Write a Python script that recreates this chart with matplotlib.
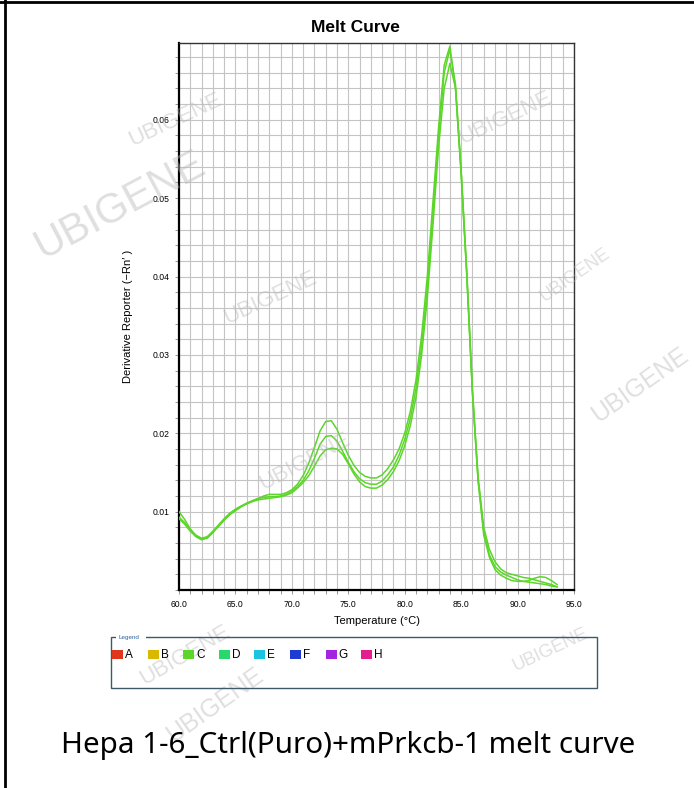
import numpy as np
import matplotlib.pyplot as plt
from matplotlib.patches import Rectangle
from matplotlib.lines import Line2D

# Temperatura (graus C) e derivada das tres replicas
temperatura = [60.0, 60.5, 61.0, 61.5, 62.0, 62.5, 63.0, 63.5, 64.0, 64.5,
               65.0, 65.5, 66.0, 66.5, 67.0, 67.5, 68.0, 68.5, 69.0, 69.5,
               70.0, 70.5, 71.0, 71.5, 72.0, 72.5, 73.0, 73.5, 74.0, 74.5,
               75.0, 75.5, 76.0, 76.5, 77.0, 77.5, 78.0, 78.5, 79.0, 79.5,
               80.0, 80.5, 81.0, 81.5, 82.0, 82.5, 83.0, 83.5, 84.0, 84.5,
               85.0, 85.5, 86.0, 86.5, 87.0, 87.5, 88.0, 88.5, 89.0, 89.5,
               90.0, 90.5, 91.0, 91.5, 92.0, 92.5, 93.0, 93.5]

replica_1 = [0.0100, 0.0090, 0.0078, 0.0069, 0.0065, 0.0066, 0.0073, 0.0082, 0.0090, 0.0097,
             0.0103, 0.0107, 0.0110, 0.0113, 0.0116, 0.0120, 0.0122, 0.0122, 0.0122, 0.0124,
             0.0128, 0.0135, 0.0146, 0.0162, 0.0182, 0.0203, 0.0215, 0.0216, 0.0205, 0.0188,
             0.0172, 0.0159, 0.0150, 0.0145, 0.0143, 0.0143, 0.0147, 0.0155, 0.0166, 0.0180,
             0.0200, 0.0228, 0.0268, 0.0325, 0.0400, 0.0495, 0.0590, 0.0670, 0.0694, 0.0640,
             0.0530, 0.0400, 0.0250, 0.0140, 0.0075, 0.0045, 0.0030, 0.0023, 0.0019, 0.0016,
             0.0013, 0.0011, 0.0012, 0.0015, 0.0017, 0.0016, 0.0012, 0.0007]

replica_2 = [0.0093, 0.0086, 0.0077, 0.0070, 0.0066, 0.0068, 0.0075, 0.0083, 0.0091, 0.0098,
             0.0103, 0.0107, 0.0111, 0.0114, 0.0117, 0.0118, 0.0119, 0.0119, 0.0120, 0.0122,
             0.0126, 0.0132, 0.0140, 0.0152, 0.0168, 0.0186, 0.0196, 0.0197, 0.0190, 0.0177,
             0.0163, 0.0151, 0.0142, 0.0137, 0.0135, 0.0135, 0.0139, 0.0147, 0.0157, 0.0172,
             0.0192, 0.0219, 0.0257, 0.0312, 0.0385, 0.0480, 0.0580, 0.0660, 0.0690, 0.0645,
             0.0535, 0.0405, 0.0255, 0.0145, 0.0080, 0.0052, 0.0036, 0.0027, 0.0022, 0.0020,
             0.0018, 0.0016, 0.0015, 0.0013, 0.0011, 0.0009, 0.0007, 0.0004]

replica_3 = [0.0091, 0.0084, 0.0075, 0.0068, 0.0064, 0.0067, 0.0074, 0.0081, 0.0089, 0.0096,
             0.0101, 0.0106, 0.0110, 0.0113, 0.0115, 0.0116, 0.0117, 0.0118, 0.0119, 0.0121,
             0.0124, 0.0130, 0.0137, 0.0146, 0.0158, 0.0171, 0.0179, 0.0181, 0.0180, 0.0173,
             0.0161, 0.0148, 0.0138, 0.0132, 0.0130, 0.0130, 0.0134, 0.0141, 0.0151, 0.0165,
             0.0184, 0.0210, 0.0246, 0.0300, 0.0372, 0.0465, 0.0565, 0.0640, 0.0672, 0.0640,
             0.0535, 0.0405, 0.0255, 0.0140, 0.0070, 0.0042, 0.0026, 0.0019, 0.0015, 0.0012,
             0.0011, 0.0011, 0.0010, 0.0009, 0.0008, 0.0007, 0.0005, 0.0004]

# Legenda dos pocos
pocos = ['A', 'B', 'C', 'D', 'E', 'F', 'G', 'H']
cores_pocos = ['#e2361c', '#d8b800', '#5cd62a', '#27d86a', '#1cc4e2', '#1e3ad2', '#a424e2', '#e41e8e']

x_ticks = [60.0, 65.0, 70.0, 75.0, 80.0, 85.0, 90.0, 95.0]
y_ticks = [0.01, 0.02, 0.03, 0.04, 0.05, 0.06]

W, H = 694, 788
fig = plt.figure(figsize=(W / 100, H / 100), dpi=100)
fig.patch.set_facecolor('white')


def fx(px):
    return px / W


def fy(py):
    return 1 - py / H


# Marcas d'agua (ficam atras de tudo)
marcas = [(120, 205, 30, 28), (175, 120, 16, 25), (505, 118, 16, 25), (270, 298, 16, 25),
          (305, 462, 16, 28), (575, 275, 13, 35), (640, 385, 18, 35), (185, 655, 16, 30),
          (550, 650, 13, 25), (215, 705, 18, 35)]
for (mx, my, tam, rot) in marcas:
    fig.text(fx(mx), fy(my), 'UBIGENE', fontsize=tam, color='#b8b8b8', alpha=0.45,
             rotation=rot, ha='center', va='center', family='Liberation Sans', zorder=0)

ax = fig.add_axes([fx(179), fy(590), fx(574) - fx(179), fy(43) - fy(590)])
ax.set_facecolor('none')

for serie in [replica_1, replica_2, replica_3]:
    ax.plot(temperatura, serie, color='#5cd62a', lw=1.1, zorder=3)

ax.set_xlim(60, 95)
ax.set_ylim(0, 0.0698)
ax.set_xticks(x_ticks)
ax.set_xticklabels([f'{t:.1f}' for t in x_ticks])
ax.set_yticks(y_ticks)
ax.set_yticklabels([f'{v:.2f}' for v in y_ticks])
ax.set_xticks(np.arange(60, 96, 1), minor=True)
ax.set_yticks(np.arange(0, 0.07, 0.002), minor=True)
ax.grid(which='both', color='#c4c4c4', lw=0.8, zorder=1)
ax.set_axisbelow(True)
ax.tick_params(which='both', direction='out', length=3, width=0.6, color='#888888',
               labelsize=6.2, pad=4)
for lab in ax.get_xticklabels() + ax.get_yticklabels():
    lab.set_family('Liberation Sans')

for lado in ['left', 'bottom']:
    ax.spines[lado].set_linewidth(1.6)
    ax.spines[lado].set_color('black')
for lado in ['top', 'right']:
    ax.spines[lado].set_linewidth(1.0)
    ax.spines[lado].set_color('#333333')

ax.set_xlabel('Temperature (°C)', fontsize=8, family='Liberation Sans', labelpad=5)
ax.set_ylabel('Derivative Reporter (\u2212Rn\u2032 )', fontsize=8, family='Liberation Sans',
              labelpad=14)

fig.text(fx(355), fy(27), 'Melt Curve', fontsize=12.5, fontweight='bold',
         family='Liberation Sans', ha='center', va='center')

# Caixa da legenda
fig.add_artist(Rectangle((fx(111), fy(688)), fx(597) - fx(111), fy(637) - fy(688),
                         fill=False, edgecolor='#3e5a6a', lw=1.0))
fig.add_artist(Rectangle((fx(116), fy(641)), fx(30), fy(633) - fy(641),
                         facecolor='white', edgecolor='none'))
fig.text(fx(118), fy(637), 'Legend', fontsize=4.5, color='#3060a0', va='center',
         family='Liberation Sans')
for i, (nome, cor) in enumerate(zip(pocos, cores_pocos)):
    x0 = 112 + i * 35.6
    fig.add_artist(Rectangle((fx(x0), fy(659)), fx(11), fy(650) - fy(659),
                             facecolor=cor, edgecolor='none'))
    fig.text(fx(x0 + 13), fy(655), nome, fontsize=8.5, va='center', family='Liberation Sans')

fig.text(fx(348), fy(745), 'Hepa 1-6_Ctrl(Puro)+mPrkcb-1 melt curve', fontsize=21.3,
         family='Noto Sans', ha='center', va='center')

# Bordas do quadro
fig.add_artist(Line2D([0, 1], [fy(2), fy(2)], color='black', lw=2))
fig.add_artist(Line2D([fx(5), fx(5)], [0, 1], color='black', lw=2))

fig.savefig('out.png', dpi=100)
